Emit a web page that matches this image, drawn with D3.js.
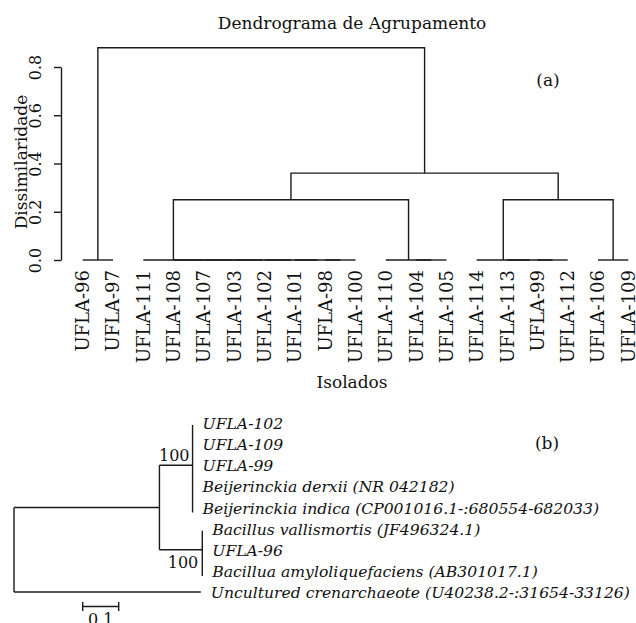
<!DOCTYPE html>
<html>
<head>
<meta charset="UTF-8">
<style>
  body { margin: 0; background: #fff; }
  svg text { font-family: "DejaVu Serif", serif; fill: #111; }
  .seg { fill: none; stroke: #1a1a1a; stroke-width: 1.4; }
</style>
</head>
<body>
<svg id="chart" width="636" height="623"></svg>
<script src="https://cdn.jsdelivr.net/npm/d3@7"></script>
<script>
// (a) dendrogram: leaf order and merge table (R style: -i = leaf i, +k = merge k)
const isolados = ["UFLA-96","UFLA-97","UFLA-111","UFLA-108","UFLA-107","UFLA-103","UFLA-102",
  "UFLA-101","UFLA-98","UFLA-100","UFLA-110","UFLA-104","UFLA-105","UFLA-114","UFLA-113",
  "UFLA-99","UFLA-112","UFLA-106","UFLA-109"];
const mergePairs = [[-1,-2],[-9,-10],[-8,2],[-7,3],[-6,4],[-5,5],[-4,6],[-3,7],[-12,-13],[-11,9],
  [-16,-17],[-15,11],[-14,12],[-18,-19],[8,10],[13,14],[15,16],[1,17]];
const mergeHeights = [0,0,0,0,0,0,0,0,0,0,0,0,0,0,0.25,0.25,0.36,0.88];
const yTicks = [0, 0.2, 0.4, 0.6, 0.8];

// (b) phylogenetic tree
const taxa = ["UFLA-102","UFLA-109","UFLA-99","Beijerinckia derxii (NR 042182)",
  "Beijerinckia indica (CP001016.1-:680554-682033)","Bacillus vallismortis (JF496324.1)",
  "UFLA-96","Bacillua amyloliquefaciens (AB301017.1)","Uncultured crenarchaeote (U40238.2-:31654-33126)"];
const treeIds     = ["root","ingroup","beij","bac"].concat(taxa);
const treeParents = ["", "root","ingroup","ingroup","beij","beij","beij","beij","beij","bac","bac","bac","root"];
const treeLengths = [0, 0.404, 0.092, 0.119, 0,0,0,0,0, 0,0,0, 0.519];
const bootstrap = {beij: 100, bac: 100};
const scaleBarLen = 0.1;

const svg = d3.select("#chart");

// ---------- panel (a)
const x = d3.scalePoint().domain(isolados).range([82.7, 628.3]);
const y = d3.scaleLinear().domain([0, 0.8]).range([260, 67]);

function toNode(k) {
  if (k < 0) return {name: isolados[-k - 1], h: 0};
  const [a, b] = mergePairs[k - 1];
  return {h: mergeHeights[k - 1], children: [toNode(a), toNode(b)]};
}
const dendro = d3.hierarchy(toNode(mergePairs.length));
dendro.eachAfter(d => {
  d.px = d.children ? d3.mean(d.children, c => c.px) : x(d.data.name);
});

const ga = svg.append("g");
ga.selectAll("path.seg").data(dendro.descendants().filter(d => d.children))
  .join("path").attr("class", "seg")
  .attr("d", d => {
    const [l, r] = d.children;
    return `M${l.px},${y(l.data.h)}V${y(d.data.h)}H${r.px}V${y(r.data.h)}`;
  });

const yAxis = ga.append("g").attr("transform", "translate(61,0)")
  .call(d3.axisLeft(y).tickValues(yTicks).tickSize(7).tickSizeOuter(0).tickFormat(d3.format(".1f")));
yAxis.selectAll("path, line").attr("stroke", "#1a1a1a").attr("stroke-width", 1.4);
yAxis.selectAll("text")
  .attr("x", null).attr("dy", null)
  .attr("transform", "translate(-20,0) rotate(-90)")
  .attr("text-anchor", "middle")
  .style("font-family", "DejaVu Serif").style("font-size", "16px").attr("fill", "#111");

ga.selectAll("text.leaf").data(isolados).join("text").attr("class", "leaf")
  .attr("transform", d => `translate(${x(d)},270) rotate(-90)`)
  .attr("dy", "0.36em").attr("text-anchor", "end")
  .style("font-size", "18px").text(d => d);

ga.append("text").attr("x", 352).attr("y", 29).attr("text-anchor", "middle")
  .style("font-size", "17px").text("Dendrograma de Agrupamento");
ga.append("text").attr("x", 352).attr("y", 388).attr("text-anchor", "middle")
  .style("font-size", "17px").text("Isolados");
ga.append("text").attr("transform", "translate(27,162) rotate(-90)").attr("text-anchor", "middle")
  .style("font-size", "17px").text("Dissimilaridade");
ga.append("text").attr("x", 548).attr("y", 86).attr("text-anchor", "middle")
  .style("font-size", "17px").text("(a)");

// ---------- panel (b)
const tree = d3.stratify().id((d, i) => treeIds[i]).parentId((d, i) => treeParents[i] || null)(treeIds);
const xb = d3.scaleLinear().domain([0, 1]).range([14, 374]);
const row = d3.scalePoint().domain(taxa).range([423, 592]);

tree.eachBefore(d => {
  const i = treeIds.indexOf(d.id);
  d.dist = (d.parent ? d.parent.dist : 0) + treeLengths[i];
  d.px = xb(d.dist);
});
tree.eachAfter(d => {
  d.py = d.children ? (d3.min(d.children, c => c.py) + d3.max(d.children, c => c.py)) / 2 : row(d.id);
});

const gb = svg.append("g");
const inner = tree.descendants().filter(d => d.children);
// vertical bars at each internal node
gb.selectAll("line.v").data(inner).join("line").attr("class", "seg")
  .attr("x1", d => d.px).attr("x2", d => d.px)
  .attr("y1", d => d3.min(d.children, c => c.py) + (d.height === 1 ? 2 : 0))
  .attr("y2", d => d3.max(d.children, c => c.py) + (d.height === 1 ? 5 : 0));
// horizontal branches (non-zero length)
gb.selectAll("line.h").data(tree.descendants().filter(d => d.parent && d.px > d.parent.px))
  .join("line").attr("class", "seg")
  .attr("x1", d => d.parent.px).attr("x2", d => d.px)
  .attr("y1", d => d.py).attr("y2", d => d.py);

gb.selectAll("text.taxon").data(tree.leaves()).join("text").attr("class", "taxon")
  .attr("x", d => d.px + 10).attr("y", d => d.py + 6)
  .style("font-size", "15.6px").style("font-style", "italic").text(d => d.id);

const beij = tree.find(d => d.id === "beij"), bac = tree.find(d => d.id === "bac");
gb.append("text").attr("x", beij.px - 3).attr("y", beij.py - 4).attr("text-anchor", "end")
  .style("font-size", "16px").text(bootstrap.beij);
gb.append("text").attr("x", bac.px - 4).attr("y", bac.py + 18).attr("text-anchor", "end")
  .style("font-size", "16px").text(bootstrap.bac);

gb.append("text").attr("x", 547).attr("y", 449).attr("text-anchor", "middle")
  .style("font-size", "17px").text("(b)");

// scale bar
const sbx = 82.7, sbw = xb(scaleBarLen) - xb(0);
gb.append("path").attr("class", "seg")
  .attr("d", `M${sbx},602V611M${sbx},606.5H${sbx + sbw}M${sbx + sbw},602V611`);
gb.append("text").attr("x", sbx + sbw / 2).attr("y", 625).attr("text-anchor", "middle")
  .style("font-size", "16px").text(scaleBarLen);
</script>
</body>
</html>
